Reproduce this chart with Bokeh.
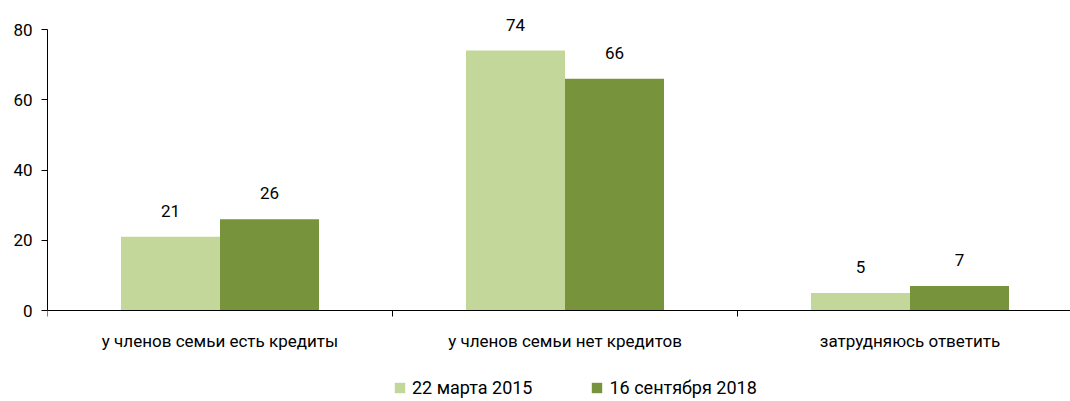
from bokeh.plotting import figure
from bokeh.models import Range1d, FixedTicker, ColumnDataSource, Legend, LegendItem, LabelSet
from bokeh.core.properties import value
from bokeh.embed import file_html
from bokeh.resources import INLINE

categories = ["у членов семьи есть кредиты", "у членов семьи нет кредитов", "затрудняюсь ответить"]
series_names = ["22 марта 2015", "16 сентября 2018"]
values_2015 = [21, 74, 5]
values_2018 = [26, 66, 7]
colors = ["#c4d79b", "#77933c"]
y_ticks = [0, 20, 40, 60, 80]

FONT = "Roboto"
FS = "17px"

PX = 281 / 80  # pixels per unit
p = figure(frame_width=1023, frame_height=400, output_backend="svg", toolbar_location=None,
           x_range=Range1d(0, 1023 / 345), y_range=Range1d(-91 / PX, 80 + 28 / PX),
           min_border_left=47, min_border_right=0, min_border_top=1, min_border_bottom=0)
p.outline_line_color = None
p.grid.visible = False
p.background_fill_color = "white"
p.border_fill_color = "white"

n = len(categories)
centers = [i + 0.5 for i in range(n)]
bw = 0.287
x1 = [c - bw / 2 for c in centers]
x2 = [c + bw / 2 for c in centers]

src1 = ColumnDataSource(dict(x=x1, top=values_2015, lab=[str(v) for v in values_2015]))
src2 = ColumnDataSource(dict(x=x2, top=values_2018, lab=[str(v) for v in values_2018]))
r1 = p.vbar(x="x", top="top", bottom=0, width=bw, source=src1, fill_color=colors[0], line_color=None)
r2 = p.vbar(x="x", top="top", bottom=0, width=bw, source=src2, fill_color=colors[1], line_color=None)

for s in (src1, src2):
    lbl = LabelSet(x="x", y="top", text="lab", source=s, text_align="center", text_baseline="middle",
                   y_offset=26, text_font=value(FONT), text_font_size=value(FS), text_color="#000000")
    p.add_layout(lbl)

# x axis, fixed at y = 0 inside the frame
xa = p.xaxis[0]
xa.fixed_location = 0
xa.ticker = FixedTicker(ticks=centers, minor_ticks=[float(i) for i in range(n + 1)])
xa.major_label_overrides = {c: cat for c, cat in zip(centers, categories)}
xa.major_tick_out = 0
xa.major_tick_in = 0
xa.minor_tick_out = 6
xa.minor_tick_in = 0
xa.minor_tick_line_color = "#000000"
xa.axis_line_color = "#000000"
xa.major_label_standoff = 14
xa.major_label_text_font = FONT
xa.major_label_text_font_size = FS
xa.major_label_text_color = "#000000"

ya = p.yaxis[0]
ya.ticker = FixedTicker(ticks=y_ticks)
ya.bounds = (0, 80)
ya.minor_tick_line_color = None
ya.major_tick_out = 6
ya.major_tick_in = 0
ya.major_tick_line_color = "#000000"
ya.axis_line_color = "#000000"
ya.major_label_standoff = 9
ya.major_label_text_font = FONT
ya.major_label_text_font_size = FS
ya.major_label_text_color = "#000000"

legend = Legend(items=[LegendItem(label=series_names[0], renderers=[r1]),
                       LegendItem(label=series_names[1], renderers=[r2])],
                orientation="horizontal", location=(346, 3),
                glyph_width=13, glyph_height=13, label_standoff=6, spacing=58,
                label_text_font=FONT, label_text_font_size="18px", label_text_color="#000000",
                border_line_color=None, background_fill_alpha=0, padding=0, margin=0)
p.add_layout(legend, "center")

open("out.html", "w").write(file_html(p, INLINE))
